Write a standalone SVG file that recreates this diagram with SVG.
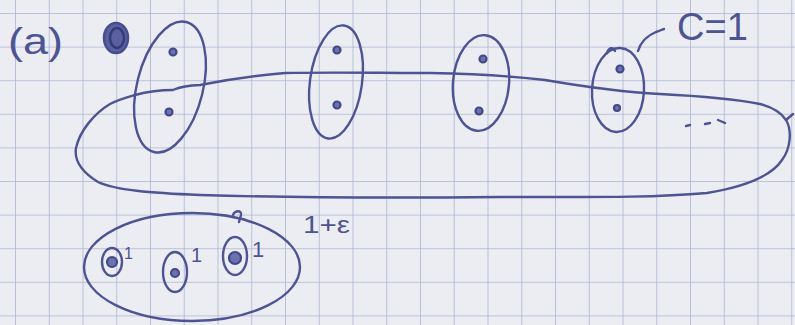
<svg xmlns="http://www.w3.org/2000/svg" width="795" height="325" viewBox="0 0 795 325">
<defs>
<pattern id="grid" x="15" y="13" width="33.75" height="33.6" patternUnits="userSpaceOnUse">
<path d="M0 0 H33.75 M0 0 V33.6" fill="none" stroke="#adb3d3" stroke-width="1.6"/>
</pattern>
<style>
.ink{fill:none;stroke:#4d5393;stroke-width:2.4;stroke-linecap:round;stroke-linejoin:round}
.dot{fill:#6c72ad;stroke:#434988;stroke-width:2.2}
.txt{fill:#4d5393;font-family:"Liberation Sans",Arial,sans-serif}
</style>
</defs>
<rect width="795" height="325" fill="#ecedf2"/>
<rect width="795" height="325" fill="url(#grid)"/>

<text class="txt" x="8" y="54" font-size="36" textLength="55" lengthAdjust="spacingAndGlyphs">(a)</text>

<g id="scribble">
<ellipse cx="116" cy="38" rx="12" ry="15" fill="#5a60a0" stroke="#474d8e" stroke-width="2.5"/>
<ellipse cx="117" cy="38" rx="7" ry="10" fill="none" stroke="#353b7a" stroke-width="2.5"/>
</g>

<g id="big-edge">
<path class="ink" d="M135 95 C150 91,165 90,173 90 C178 88,180 86,200 85 C225 80,250 76,285 73 C330 72,380 73,430 73 C480 74,520 77,545 80 C580 86,620 92,660 94 C700 96,730 98,760 104 C775 108,782 114,786 120 C792 130,791 148,782 160 C772 175,750 186,707 193 C650 198,590 197,500 197 C400 198,300 198,200 195 C150 193,115 190,98 182 C82 172,74 160,76 148 C80 130,95 113,110 104 C120 99,128 97,135 95"/>
<path class="ink" d="M786 120 L793 114"/>
<path class="ink" d="M686 126 L690 125 M705 124 L710 123 M718 120 L725 123"/>
</g>

<g id="pair1">
<ellipse class="ink" cx="170" cy="87" rx="33" ry="67" transform="rotate(14 170 87)"/>
<circle class="dot" cx="173" cy="52" r="3.5"/>
<circle class="dot" cx="169" cy="112" r="3.5"/>
</g>
<g id="pair2">
<ellipse class="ink" cx="336" cy="82" rx="26" ry="57" transform="rotate(8 336 82)"/>
<circle class="dot" cx="337" cy="50" r="3.5"/>
<circle class="dot" cx="337" cy="105" r="3.5"/>
</g>
<g id="pair3">
<ellipse class="ink" cx="481" cy="83" rx="28" ry="48" transform="rotate(5 481 83)"/>
<circle class="dot" cx="483" cy="59" r="3.5"/>
<circle class="dot" cx="479" cy="111" r="3.5"/>
</g>
<g id="pair4">
<ellipse class="ink" cx="618" cy="90" rx="26" ry="42" transform="rotate(3 618 90)"/>
<path class="ink" d="M607 53 C609 47,613 47,615 51"/>
<circle class="dot" cx="620" cy="69" r="3.5"/>
<circle class="dot" cx="617" cy="108" r="3"/>
<path class="ink" d="M638 51 C640 44,646 36,656 32 C659 31,661 30,664 29"/>
<text class="txt" x="677" y="40" font-size="38">C=1</text>
</g>

<g id="heavy-edge">
<ellipse class="ink" cx="192" cy="267" rx="108" ry="54"/>
<path class="ink" d="M233 215 C235 210,242 210,241 215 L239 222"/>
<text class="txt" x="303" y="233" font-size="24" textLength="47" lengthAdjust="spacingAndGlyphs">1+ε</text>
</g>
<g id="v1">
<ellipse class="ink" cx="112" cy="262" rx="10" ry="14"/>
<circle class="dot" cx="112" cy="262" r="5"/>
<text class="txt" x="124" y="259" font-size="16">1</text>
</g>
<g id="v2">
<ellipse class="ink" cx="175" cy="272" rx="12" ry="20"/>
<circle class="dot" cx="175" cy="273" r="4"/>
<text class="txt" x="191" y="262" font-size="20">1</text>
</g>
<g id="v3">
<ellipse class="ink" cx="235" cy="256" rx="12" ry="19"/>
<circle class="dot" cx="235" cy="258" r="6"/>
<text class="txt" x="252" y="257" font-size="22">1</text>
</g>
</svg>
